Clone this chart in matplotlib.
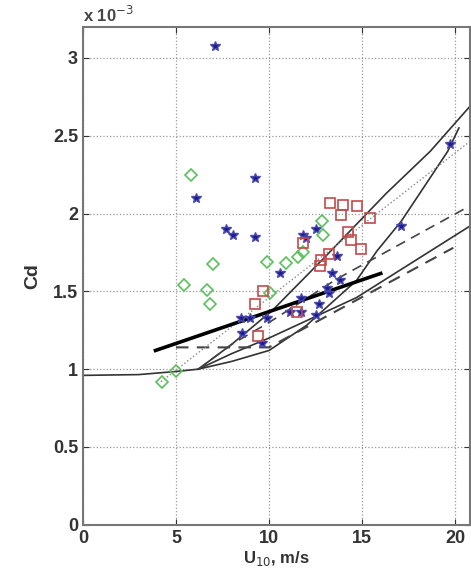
import matplotlib
matplotlib.use("Agg")
import matplotlib.pyplot as plt

# scatter data (Cd in units of 1e-3)
star_u = [7.1, 6.05, 9.25, 7.7, 8.05, 9.25, 19.73, 17.1, 11.8, 12.5, 12.0, 10.6, 13.65,
          13.4, 13.8, 13.2, 11.7, 12.7, 11.1, 11.7, 8.5, 9.0, 9.9, 8.55, 9.6, 12.5, 13.1]
star_cd = [3.08, 2.10, 2.23, 1.90, 1.865, 1.85, 2.45, 1.92, 1.86, 1.90, 1.84, 1.615, 1.73,
           1.62, 1.57, 1.49, 1.46, 1.42, 1.37, 1.37, 1.33, 1.33, 1.33, 1.23, 1.17, 1.35, 1.52]

dia_u = [5.8, 7.0, 5.43, 6.67, 6.85, 9.9, 10.9, 11.55, 11.85, 12.9, 12.85, 10.05, 5.0, 4.25]
dia_cd = [2.25, 1.675, 1.54, 1.51, 1.42, 1.69, 1.68, 1.72, 1.75, 1.86, 1.95, 1.49, 0.99, 0.92]

sq_u = [13.3, 14.0, 14.7, 13.85, 15.45, 14.25, 14.4, 14.95, 11.85, 13.2, 12.8, 12.75,
        9.7, 9.25, 9.4, 11.5]
sq_cd = [2.07, 2.055, 2.05, 1.99, 1.97, 1.88, 1.83, 1.775, 1.81, 1.74, 1.70, 1.66,
         1.50, 1.42, 1.21, 1.37]

# parameterisation curves
a_u = [0, 3, 5, 6.2, 8, 10.2, 13, 16.3, 18.66, 20.8]
a_cd = [0.96, 0.965, 0.985, 1.0, 1.16, 1.38, 1.72, 2.13, 2.40, 2.69]
b_u = [6.2, 8, 10, 12, 14.7, 15.8, 17.1, 19.6, 20.2]
b_cd = [1.0, 1.05, 1.12, 1.28, 1.57, 1.76, 1.95, 2.40, 2.55]
d_u = [6.2, 8, 10, 14.7, 20.8]
d_cd = [1.0, 1.1, 1.2, 1.46, 1.92]
e_u = [6.2, 8, 10, 13.65, 20.8]
e_cd = [1.0, 1.16, 1.3, 1.58, 2.05]
lp_u = [5, 10, 19.9]
lp_cd = [1.14, 1.14, 1.78]
dot_u = [4.2, 20.86]
dot_cd = [0.92, 2.47]
fit_u = [3.9, 16]
fit_cd = [1.12, 1.615]

plt.rcParams['font.family'] = ['Liberation Sans', 'DejaVu Sans']
fig = plt.figure(figsize=(4.71, 5.71), dpi=100)
ax = fig.add_axes([0.176, 0.081, 0.822, 0.872])

ax.plot(a_u, a_cd, color='#333333', lw=1.2)
ax.plot(b_u, b_cd, color='#333333', lw=1.2)
ax.plot(d_u, d_cd, color='#333333', lw=1.2)
ax.plot(e_u, e_cd, color='#444444', lw=1.2, ls=(0, (6, 4)))
ax.plot(lp_u, lp_cd, color='#444444', lw=1.5, ls=(0, (6, 4)))
ax.plot(dot_u, dot_cd, color='#888888', lw=1.0, ls=':')
ax.plot(fit_u, fit_cd, color='black', lw=2.6)

ax.plot(star_u, star_cd, ls='none', marker='*', ms=7.5, color='#1c1c8c', mec='#4848b0')
ax.plot(dia_u, dia_cd, ls='none', marker='D', ms=6.5, mfc='none', mec='#5cc05c', mew=1.2)
ax.plot(sq_u, sq_cd, ls='none', marker='s', ms=6.5, mfc='none', mec='#c44a4a', mew=1.2)

ax.set_xlim(0, 20.8)
ax.set_ylim(0, 3.2)
ax.set_xticks([0, 5, 10, 15, 20])
ax.set_yticks([0, 0.5, 1, 1.5, 2, 2.5, 3])
ax.set_yticklabels(['0', '0.5', '1', '1.5', '2', '2.5', '3'])
ax.grid(True, ls=':', color='#999999', lw=0.9)
ax.tick_params(direction='in', top=True, right=True, labelsize=13, colors='#333333',
               length=4)
for lbl in ax.get_xticklabels() + ax.get_yticklabels():
    lbl.set_fontweight('bold')
for sp in ax.spines.values():
    sp.set_color('#777777')
    sp.set_linewidth(1.5)

ax.set_xlabel('U$_{10}$, m/s', fontsize=12, fontweight='bold', color='#333333', labelpad=2)
ax.set_ylabel('Cd', fontsize=14, fontweight='bold', color='#333333', labelpad=8)
fig.text(0.176, 0.962, 'x 10$^{-3}$', fontsize=12, fontweight='bold', color='#444444')

fig.savefig('out.png', dpi=100)
